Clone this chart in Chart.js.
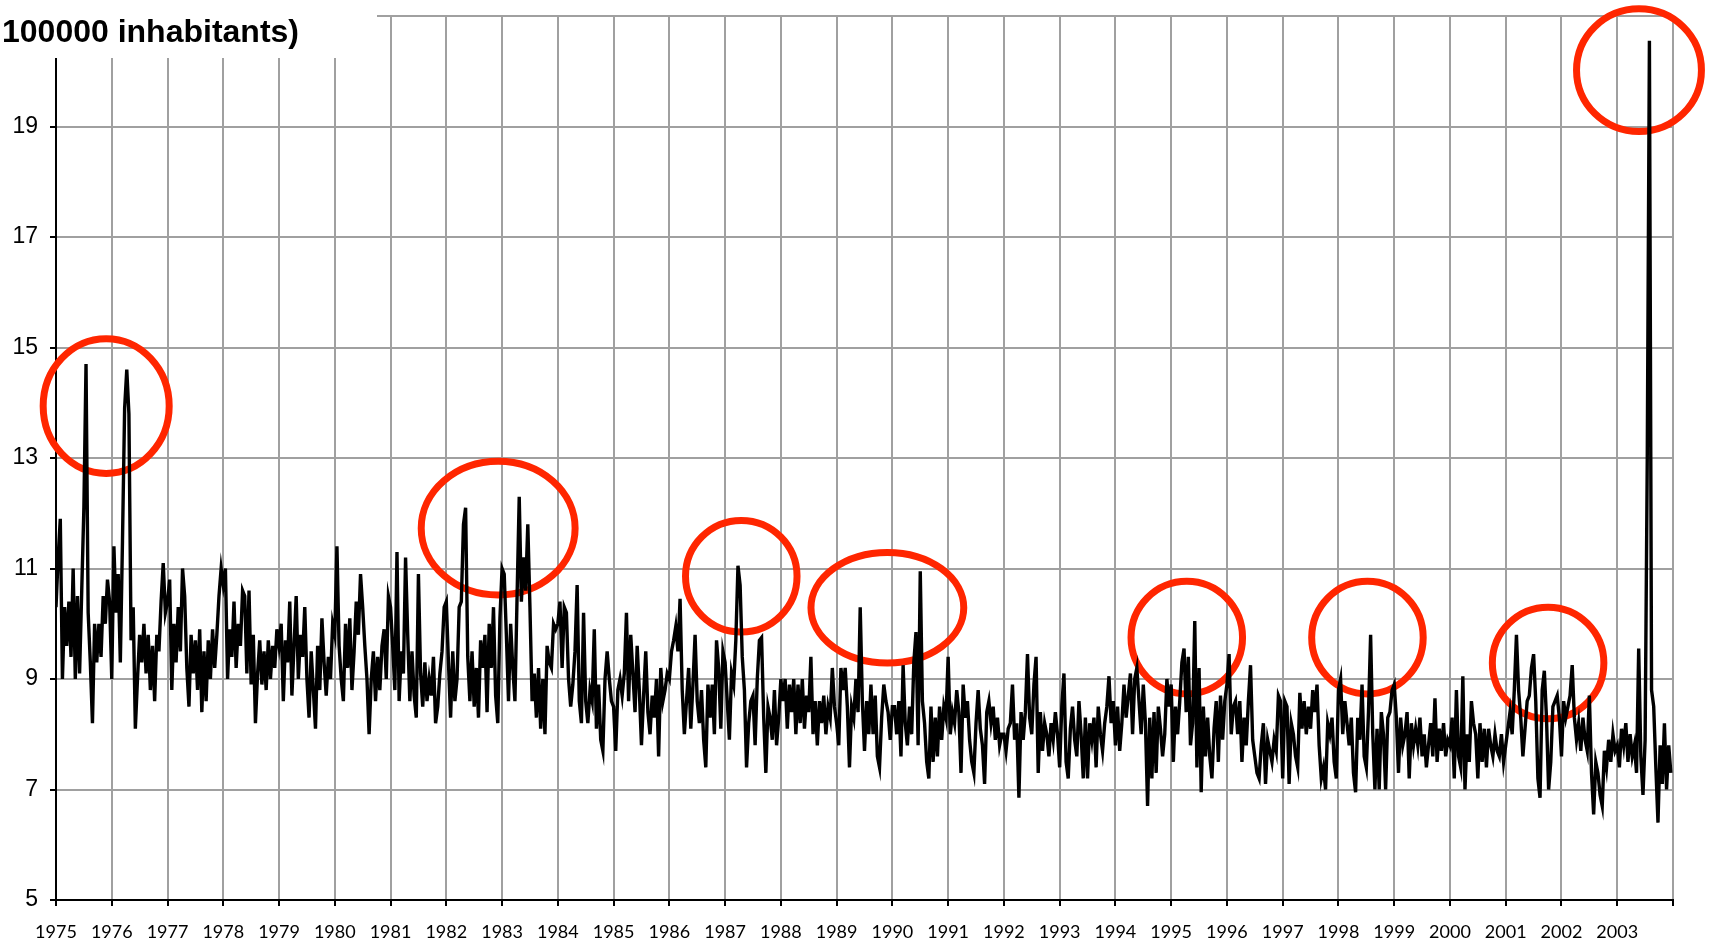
<!DOCTYPE html>
<html>
<head>
<meta charset="utf-8">
<script src="https://cdn.jsdelivr.net/npm/chart.js@4.4.1/dist/chart.umd.min.js"></script>
<style>
html,body{margin:0;padding:0;background:#fff;overflow:hidden}
canvas{display:block}
</style>
</head>
<body>
<canvas id="c" width="1712" height="943"></canvas>
<script>
// ---- text ----
const titleText = "100000 inhabitants)";

// ---- tick labels ----
const xTickYears = [1975,1976,1977,1978,1979,1980,1981,1982,1983,1984,1985,1986,1987,1988,1989,
                    1990,1991,1992,1993,1994,1995,1996,1997,1998,1999,2000,2001,2002,2003];
const yTickValues = [5,7,9,11,13,15,17,19];

// ---- series: values, 26 readings per year ----
const y1975 = [10.3,11.2,11.9,9.0,10.3,9.6,10.4,9.4,11.0,9.0,10.5,9.1,10.6,12.1,14.7,10.2,9.3,8.2,10.0,9.3,10.0,9.4,10.5,10.0,10.8,10.4];
const y1976 = [9.0,11.4,10.2,10.9,9.3,11.5,13.9,14.6,13.8,9.7,10.3,8.1,9.0,9.8,9.3,10.0,9.1,9.8,8.8,9.6,8.6,9.8,9.5,10.4,11.1,10.2];
const y1977 = [10.4,10.8,8.8,10.0,9.3,10.3,9.5,11.0,10.5,9.2,8.5,9.8,9.1,9.7,8.8,9.9,8.4,9.5,8.6,9.7,9.0,9.9,9.2,9.8,10.5,11.0];
const y1978 = [10.7,11.0,9.0,9.9,9.4,10.4,9.2,10.0,9.6,10.6,10.5,9.1,10.6,8.9,9.8,8.2,9.1,9.7,8.9,9.5,8.8,9.7,9.0,9.6,9.2,9.9];
const y1979 = [9.6,10.0,8.6,9.7,9.3,10.4,8.7,9.6,10.5,9.0,9.8,9.4,10.3,9.0,8.3,9.5,8.8,8.1,9.6,8.8,10.1,9.3,8.7,9.4,9.0,10.0];
const y1980 = [9.8,11.4,9.6,9.0,8.6,10.0,9.2,10.1,8.8,9.5,10.4,9.8,10.9,10.3,9.6,9.0,8.0,9.0,9.5,8.6,9.4,8.8,9.6,9.9,9.0,10.5];
const y1981 = [10.3,9.6,8.8,11.3,8.6,9.5,9.1,11.2,9.8,8.6,9.5,8.7,8.3,10.9,9.1,8.5,9.3,8.6,9.0,8.7,9.4,8.2,8.5,9.1,9.5,10.3];
const y1982 = [10.4,9.3,8.3,9.5,8.6,9.0,10.3,10.4,11.8,12.1,9.4,8.6,9.5,8.5,9.2,8.3,9.7,9.2,9.8,8.4,10.0,9.2,10.3,8.7,8.2,10.1];
const y1983 = [11.0,10.9,9.8,8.6,10.0,9.2,8.6,10.5,12.3,10.4,11.2,10.6,11.8,10.3,8.6,9.1,8.3,9.2,8.1,9.0,8.0,9.6,9.3,9.2,10.0,9.9];
const y1984 = [10.0,10.4,9.2,10.3,10.2,9.0,8.5,8.9,9.5,10.7,8.6,8.2,10.2,8.6,8.2,8.8,8.6,9.9,8.1,8.9,7.9,7.7,9.0,9.5,9.0,8.6];
const y1985 = [8.5,7.7,8.8,9.0,8.7,9.1,10.2,8.6,9.8,9.1,8.4,9.6,8.8,7.8,8.7,9.5,8.4,8.0,8.7,8.3,9.0,7.6,9.2,8.6,8.8,9.1];
const y1986 = [9.0,9.5,9.7,9.95,9.5,10.45,8.8,8.0,8.6,9.2,8.1,8.9,9.8,8.6,8.2,8.8,7.9,7.4,8.9,8.3,8.9,8.0,9.7,9.2,8.1,9.5];
const y1987 = [9.3,8.6,7.9,9.1,8.9,9.7,11.05,10.7,9.4,8.8,7.4,8.2,8.6,8.7,7.8,9.0,9.7,9.75,8.3,7.3,8.5,8.3,7.9,8.8,7.8,8.3];
const y1988 = [9.0,8.6,9.0,8.1,8.9,8.4,9.0,8.0,8.9,8.2,9.0,8.1,8.7,8.4,9.4,8.0,8.6,7.8,8.6,8.2,8.7,8.0,8.5,8.3,9.2,8.5];
const y1989 = [8.2,7.8,9.2,8.8,9.2,8.5,7.4,8.5,8.3,9.0,8.4,10.3,8.6,7.7,8.6,8.0,8.9,8.0,8.7,7.6,7.4,8.3,8.9,8.6,8.4,7.9];
const y1990 = [8.5,8.5,8.0,8.6,7.6,9.25,8.2,7.8,8.5,8.0,9.3,9.85,7.8,10.95,8.6,8.2,7.5,7.2,8.5,7.5,8.3,7.6,8.5,7.9,8.5,8.3];
const y1991 = [9.4,8.0,8.4,8.2,8.8,8.4,7.3,8.9,8.3,8.6,7.9,7.5,7.3,8.2,8.8,8.1,7.8,7.1,8.4,8.6,8.2,8.5,7.9,8.3,7.8,8.0];
const y1992 = [8.0,7.7,8.1,8.2,8.9,7.9,8.2,6.85,8.4,7.9,8.4,9.45,8.3,8.0,8.9,9.4,7.3,8.4,7.7,8.2,8.0,7.6,8.2,7.9,8.4,8.0];
const y1993 = [7.4,8.5,9.1,7.5,7.2,8.1,8.5,7.9,7.6,8.6,8.0,7.2,8.3,7.2,8.2,7.9,8.3,7.4,8.5,8.0,7.7,8.2,8.5,9.05,8.2,8.6];
const y1994 = [7.8,8.5,7.7,8.2,8.9,8.3,8.7,9.1,8.0,9.0,9.2,8.6,8.0,8.9,8.2,6.7,8.3,7.2,8.4,7.3,8.5,8.1,7.6,8.0,9.0,8.5];
const y1995 = [8.9,7.5,8.5,8.0,8.6,9.3,9.55,8.4,9.4,7.8,8.2,10.05,7.4,9.2,6.95,8.5,7.6,8.3,7.6,7.2,8.1,8.6,7.5,8.7,7.9,8.6];
const y1996 = [8.9,9.45,8.0,8.5,8.6,8.0,8.6,7.5,8.3,7.8,8.6,9.25,7.9,7.6,7.3,7.2,7.8,8.2,7.1,7.9,7.7,7.5,7.9,7.7,8.7,8.6];
const y1997 = [7.2,8.6,8.5,7.1,8.2,8.0,7.6,7.4,8.75,8.1,8.6,8.0,8.5,8.1,8.8,8.4,8.9,7.8,7.2,7.4,7.0,8.2,8.0,8.3,7.5,7.2];
const y1998 = [8.8,9.0,8.0,8.6,8.2,7.8,8.3,7.3,6.95,8.3,7.9,8.9,7.6,7.4,8.4,9.8,8.0,7.0,8.1,7.0,8.4,8.0,7.0,8.3,8.4,8.8];
const y1999 = [8.9,8.3,7.3,8.3,7.8,8.0,8.4,7.2,8.2,7.8,8.1,7.8,8.3,7.6,8.0,7.4,7.8,8.2,7.6,8.65,7.5,8.1,7.7,8.2,7.6,7.9];
const y2000 = [7.8,8.3,7.2,8.8,7.6,7.4,9.05,7.0,8.0,7.5,8.6,8.2,8.0,7.2,8.2,7.5,8.1,7.4,8.1,7.8,7.6,8.0,7.7,7.6,8.0,7.5];
const y2001 = [7.8,8.1,8.4,8.0,8.8,9.8,8.8,8.3,7.6,8.1,8.6,8.7,9.2,9.45,8.6,7.2,6.85,8.8,9.15,8.3,7.0,7.5,8.5,8.6,8.7,8.3];
const y2002 = [7.6,8.6,8.3,8.5,8.7,9.25,8.3,7.9,8.2,7.7,8.3,7.9,7.7,8.7,7.3,6.55,7.5,7.3,6.9,6.7,7.7,7.4,7.9,7.5,8.0,7.7];
const y2003 = [7.8,7.4,8.1,7.8,8.2,7.5,8.0,7.6,7.8,7.3,9.55,7.6,6.9,7.9,13.0,20.55,8.8,8.5,7.4,6.4,7.8,7.1,8.2,7.0,7.8,7.3];

const seriesYears = xTickYears;
const seriesByYear = [y1975,y1976,y1977,y1978,y1979,y1980,y1981,y1982,y1983,y1984,
                      y1985,y1986,y1987,y1988,y1989,y1990,y1991,y1992,y1993,y1994,
                      y1995,y1996,y1997,y1998,y1999,y2000,y2001,y2002,y2003];

// ---- highlighted episodes (ellipses, in data units) ----
const ringX  = [1975.90, 1982.93, 1987.29, 1989.91, 1995.28, 1998.52, 2001.76, 2003.39];
const ringY  = [13.94,   11.73,   10.86,   10.29,   9.75,    9.75,    9.29,    20.02];
const ringRX = [1.13,    1.38,    1.00,    1.37,    1.00,    1.00,    1.00,    1.12];
const ringRY = [1.22,    1.21,    1.01,    1.00,    1.02,    1.02,    1.01,    1.11];

// build points
const points = [];
seriesYears.forEach((yr, k) => {
  const arr = seriesByYear[k];
  arr.forEach((v, i) => points.push({x: yr + i / arr.length, y: v}));
});

const overlay = {
  id: 'overlay',
  beforeDatasetsDraw(chart) {
    const {ctx, scales: {x, y}} = chart;
    ctx.save();
    ctx.strokeStyle = '#ff2600';
    ctx.lineWidth = 7;
    for (let i = 0; i < ringX.length; i++) {
      const cx = x.getPixelForValue(ringX[i]);
      const cy = y.getPixelForValue(ringY[i]);
      const rx = x.getPixelForValue(ringX[i] + ringRX[i]) - cx;
      const ry = cy - y.getPixelForValue(ringY[i] + ringRY[i]);
      ctx.beginPath();
      ctx.ellipse(cx, cy, rx, ry, 0, 0, Math.PI * 2);
      ctx.stroke();
    }
    ctx.restore();
  },
  afterDraw(chart) {
    const ctx = chart.ctx;
    ctx.save();
    ctx.fillStyle = '#fff';
    ctx.fillRect(0, 0, 377, 58);
    ctx.fillStyle = '#000';
    ctx.font = 'bold 32px "Liberation Sans", Arial, sans-serif';
    ctx.textBaseline = 'alphabetic';
    ctx.textAlign = 'left';
    ctx.fillText(titleText, 2, 42);
    ctx.restore();
  }
};

function build() {
  new Chart(document.getElementById('c'), {
    type: 'line',
    data: {
      datasets: [{
        data: points,
        borderColor: '#000',
        borderWidth: 3.4,
        pointRadius: 0,
        tension: 0,
        fill: false
      }]
    },
    options: {
      responsive: false,
      animation: false,
      devicePixelRatio: 1,
      layout: {padding: {top: 16, right: 39, left: 0, bottom: 0}},
      plugins: {legend: {display: false}, tooltip: {enabled: false}},
      scales: {
        x: {
          type: 'linear', min: 1975, max: 2004,
          ticks: {
            stepSize: 1, autoSkip: false, maxRotation: 0, minRotation: 0,
            color: '#000', padding: 15,
            font: {family: 'Lato', size: 18},
            callback: v => xTickYears.includes(v) ? String(v) : ''
          },
          grid: {color: '#a0a0a0', lineWidth: 2, tickColor: '#000', tickLength: 6, drawTicks: true},
          border: {color: '#000', width: 2},
          afterFit: s => { s.height = 43; s.paddingLeft = 0; s.paddingRight = 0; }
        },
        y: {
          min: 5, max: 21,
          ticks: {
            stepSize: 2, color: '#000', padding: 12,
            font: {family: '"Liberation Sans", Arial', size: 23},
            callback: v => yTickValues.includes(v) ? String(v) : ''
          },
          grid: {color: '#a0a0a0', lineWidth: 2, tickColor: '#000', tickLength: 6, drawTicks: true},
          border: {color: '#000', width: 2},
          afterFit: s => { s.width = 56; s.paddingTop = 0; s.paddingBottom = 0; }
        }
      }
    },
    plugins: [overlay]
  });
}

const fontLoads = [
  document.fonts.load('18px Lato'),
  document.fonts.load('23px "Liberation Sans"'),
  document.fonts.load('bold 32px "Liberation Sans"')
];
Promise.all(fontLoads).then(build, build);
</script>
</body>
</html>
